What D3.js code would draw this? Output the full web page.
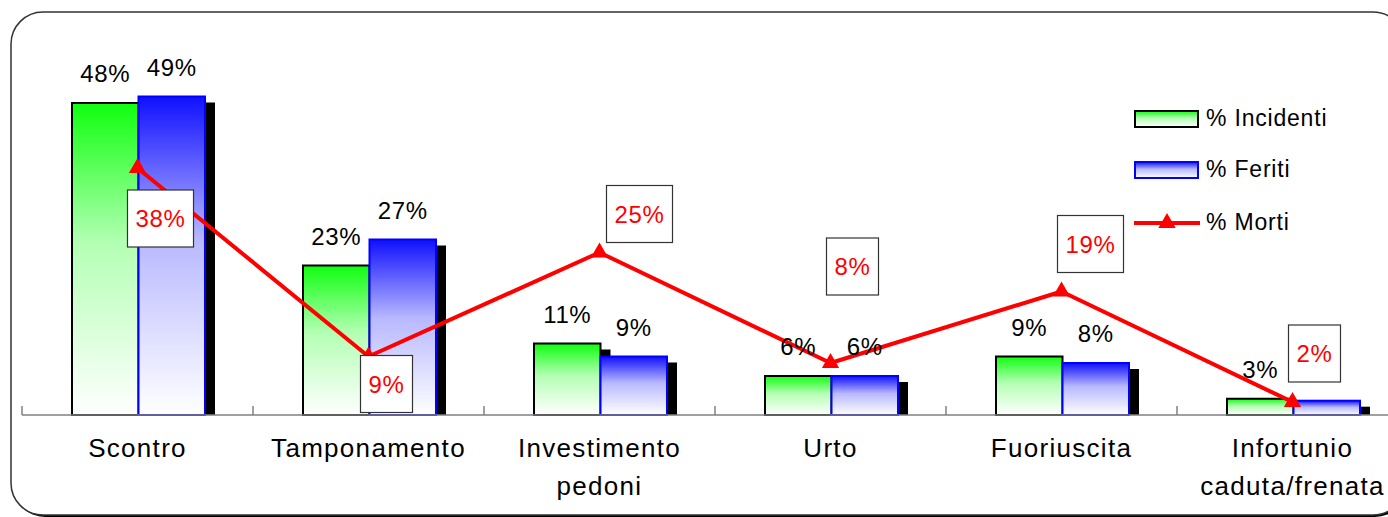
<!DOCTYPE html>
<html>
<head>
<meta charset="utf-8">
<script src="https://cdn.jsdelivr.net/npm/d3@7"></script>
<style>
  body { margin: 0; background: #fff; }
  svg { display: block; font-family: Arial, "Liberation Sans", sans-serif; }
</style>
</head>
<body>
<svg id="main" width="1388" height="517"></svg>
<script>
// chart values
const categories = ["Scontro", "Tamponamento", "Investimento pedoni", "Urto", "Fuoriuscita", "Infortunio caduta/frenata"];
const tickLabels = [["Scontro"], ["Tamponamento"], ["Investimento", "pedoni"], ["Urto"], ["Fuoriuscita"], ["Infortunio", "caduta/frenata"]];
const incidenti = [48, 23, 11, 6, 9, 2.5];
const feriti = [49, 27, 9, 6, 8, 2.2];
const morti = [38, 9, 25, 8, 19, 2];
const seriesNames = ["% Incidenti", "% Feriti", "% Morti"];

// where excel put the red label boxes, relative to each point
const mortiLabelOffset = [[23, 50], [18, 27], [40, -39], [22, -97], [29, -48], [22, -49]];

const svg = d3.select('#main');
const baseY = 415;

const x = d3.scaleBand()
    .domain(categories)
    .range([22, 22 + 231 * 6]);

const xSub = d3.scaleBand()
    .domain(["inc", "fer"])
    .range([50, 183]);

const y = d3.scaleLinear()
    .domain([0, 60])
    .range([baseY, 25]);

const fmt = v => d3.format(".0f")(v) + "%";

// gradients
const defs = svg.append('defs');
function grad(id, top, mid) {
    const g = defs.append('linearGradient')
        .attr('id', id)
        .attr('x1', 0).attr('y1', 0).attr('x2', 0).attr('y2', 1);
    g.append('stop').attr('offset', '0%').attr('stop-color', top);
    g.append('stop').attr('offset', '45%').attr('stop-color', mid);
    g.append('stop').attr('offset', '100%').attr('stop-color', '#ffffff');
}
grad('gGreen', '#10ff10', '#b4ffb4');
grad('gBlue', '#1010ff', '#b8b8ff');

// outer frame
svg.append('rect')
    .attr('x', 13).attr('y', 14)
    .attr('width', 1394).attr('height', 503)
    .attr('rx', 32)
    .attr('fill', '#000');
svg.append('rect')
    .attr('x', 11).attr('y', 12)
    .attr('width', 1394).attr('height', 503)
    .attr('rx', 32)
    .attr('fill', '#fff')
    .attr('stroke', '#333')
    .attr('stroke-width', 1.5);

const rows = categories.map((c, i) => ({ cat: c, inc: incidenti[i], fer: feriti[i], mor: morti[i], i: i }));
const barData = rows.flatMap(d => [{ cat: d.cat, k: 'inc', v: d.inc, i: d.i }, { cat: d.cat, k: 'fer', v: d.fer, i: d.i }]);

const barW = xSub.bandwidth();

// shadows
svg.append('g')
    .selectAll('rect')
    .data(barData)
    .enter()
    .append('rect')
    .attr('x', d => x(d.cat) + xSub(d.k) + 10)
    .attr('y', d => y(d.v) + 6)
    .attr('width', barW)
    .attr('height', d => baseY - y(d.v) - 6)
    .attr('fill', '#000');

// bars
svg.append('g')
    .selectAll('rect')
    .data(barData)
    .enter()
    .append('rect')
    .attr('x', d => x(d.cat) + xSub(d.k))
    .attr('y', d => y(d.v))
    .attr('width', barW)
    .attr('height', d => baseY - y(d.v))
    .attr('fill', d => d.k == 'inc' ? 'url(#gGreen)' : 'url(#gBlue)')
    .attr('stroke', d => d.k == 'inc' ? '#000' : '#0000ff')
    .attr('stroke-width', 2);

// category axis
const axis = svg.append('g');
axis.append('line')
    .attr('x1', 22).attr('x2', 1400)
    .attr('y1', baseY).attr('y2', baseY)
    .attr('stroke', '#808080')
    .attr('stroke-width', 1.5);
axis.selectAll('.tick')
    .data(d3.range(categories.length + 1))
    .enter()
    .append('line')
    .attr('x1', i => 22 + i * x.bandwidth())
    .attr('x2', i => 22 + i * x.bandwidth())
    .attr('y1', baseY - 9).attr('y2', baseY)
    .attr('stroke', '#808080')
    .attr('stroke-width', 1.5);

axis.selectAll('text')
    .data(categories)
    .enter()
    .append('text')
    .attr('text-anchor', 'middle')
    .attr('font-size', 26)
    .attr('letter-spacing', 1.3)
    .attr('fill', '#000')
    .each(function (c, i) {
        tickLabels[i].forEach((t, j) => {
            d3.select(this).append('tspan')
                .attr('x', x(c) + x.bandwidth() / 2)
                .attr('y', 457 + j * 38)
                .text(t);
        });
    });

// morti line
const cx = c => x(c) + x.bandwidth() / 2;
const line = d3.line()
    .x(d => cx(d.cat))
    .y(d => y(d.mor));

svg.append('path')
    .datum(rows)
    .attr('d', line)
    .attr('fill', 'none')
    .attr('stroke', '#ff0000')
    .attr('stroke-width', 4)
    .attr('stroke-linejoin', 'round');

const tri = d3.symbol().type(d3.symbolTriangle).size(130);
svg.append('g')
    .selectAll('path')
    .data(rows)
    .enter()
    .append('path')
    .attr('d', tri)
    .attr('transform', d => `translate(${cx(d.cat)},${y(d.mor)})`)
    .attr('fill', '#ff0000');

// bar value labels (the last blue one sits under the 2% box in the original, so it is left out)
svg.append('g')
    .selectAll('text')
    .data(barData.filter(d => !(d.k == 'fer' && d.i == 5)))
    .enter()
    .append('text')
    .attr('x', d => x(d.cat) + xSub(d.k) + barW / 2)
    .attr('y', d => y(d.v) - 21)
    .attr('text-anchor', 'middle')
    .attr('font-size', 24)
    .attr('letter-spacing', 0.6)
    .attr('fill', '#000')
    .text(d => fmt(d.v));

// morti label boxes
const boxes = svg.append('g')
    .selectAll('g')
    .data(rows)
    .enter()
    .append('g')
    .attr('transform', d => `translate(${cx(d.cat) + mortiLabelOffset[d.i][0]},${y(d.mor) + mortiLabelOffset[d.i][1]})`);

boxes.append('rect')
    .attr('x', d => -(fmt(d.mor).length == 3 ? 33 : 26))
    .attr('y', -28)
    .attr('width', d => fmt(d.mor).length == 3 ? 66 : 52)
    .attr('height', 57)
    .attr('fill', '#fff')
    .attr('stroke', '#333')
    .attr('stroke-width', 1.2);

boxes.append('text')
    .attr('text-anchor', 'middle')
    .attr('y', 9)
    .attr('font-size', 24)
    .attr('letter-spacing', 0.6)
    .attr('fill', '#ff0000')
    .text(d => fmt(d.mor));

// legend
const legend = svg.append('g');
const legY = [119, 170, 223];

legend.append('rect')
    .attr('x', 1135).attr('y', legY[0] - 8)
    .attr('width', 63).attr('height', 16)
    .attr('fill', 'url(#gGreen)')
    .attr('stroke', '#000')
    .attr('stroke-width', 2);
legend.append('rect')
    .attr('x', 1135).attr('y', legY[1] - 8)
    .attr('width', 63).attr('height', 16)
    .attr('fill', 'url(#gBlue)')
    .attr('stroke', '#0000ff')
    .attr('stroke-width', 2);
legend.append('line')
    .attr('x1', 1134).attr('x2', 1200)
    .attr('y1', legY[2]).attr('y2', legY[2])
    .attr('stroke', '#ff0000')
    .attr('stroke-width', 4);
legend.append('path')
    .attr('d', tri)
    .attr('transform', `translate(1167,${legY[2]})`)
    .attr('fill', '#ff0000');

legend.selectAll('text')
    .data(seriesNames)
    .enter()
    .append('text')
    .attr('x', 1206)
    .attr('y', (d, i) => legY[i] + 7)
    .attr('font-size', 23)
    .attr('letter-spacing', 0.8)
    .attr('fill', '#000')
    .text(d => d);
</script>
</body>
</html>
